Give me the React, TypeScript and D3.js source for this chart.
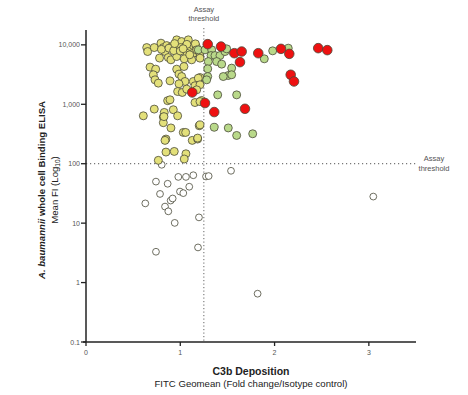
import React from 'react';
import * as d3 from 'd3';

// Scatter of C3b deposition vs whole-cell binding ELISA, log y axis.

const WIDTH = 468;
const HEIGHT = 395;
const X0 = 86;
const X1 = 416;
const Y_TOP = 30;
const Y_BOTTOM = 342;

const X_TICKS = [0, 1, 2, 3];
const Y_TICKS = [0.1, 1, 10, 100, 1000, 10000];
const X_THRESHOLD = 1.25;
const Y_THRESHOLD = 100;

// [C3b fold change, mean FI]
const belowThreshold: [number, number][] = [
  [0.803, 96], [1.538, 76], [0.742, 50], [0.866, 46], [0.979, 60], [1.06, 60],
  [1.138, 64], [1.273, 61], [1.301, 62], [0.785, 31], [0.997, 34], [1.032, 32],
  [1.095, 41], [0.629, 21.5], [0.898, 24], [0.919, 26], [0.838, 19], [0.873, 15.8],
  [0.941, 10.1], [1.198, 12.5], [0.742, 3.3], [1.188, 3.9], [3.047, 28], [1.82, 0.65],
];

const lowC3b: [number, number][] = [
  [0.644, 9010], [0.654, 7720], [0.724, 9010], [0.795, 10680], [0.82, 9010], [0.838, 7720],
  [0.856, 9730], [0.909, 9360], [0.962, 9360], [0.962, 12140], [1.015, 11360], [1.085, 12140],
  [1.05, 9360], [1.103, 8240], [1.138, 9730], [1.068, 7240], [1.138, 7240], [1.191, 7930],
  [0.873, 6120], [0.901, 5600], [0.962, 6360], [1.042, 5820], [1.121, 5600], [1.209, 6360],
  [0.8, 8400], [0.88, 8800], [0.93, 8000], [1.0, 9000], [1.0, 7900], [1.07, 10200],
  [1.17, 9300], [1.1, 6800], [0.78, 6000], [0.94, 10500], [1.03, 8600], [1.16, 10400],
  [0.679, 4220], [0.739, 3900], [0.714, 3140], [0.732, 2580], [0.962, 3900], [1.039, 4320],
  [0.986, 3220], [1.015, 2930], [0.891, 2480], [0.767, 2270], [1.05, 2420], [1.138, 2420],
  [1.209, 2820], [1.174, 8240], [1.209, 7240], [1.209, 5980], [1.191, 2750], [0.986, 2210],
  [1.156, 2050], [1.209, 2130], [0.972, 1640], [1.021, 1580], [1.068, 1800], [1.174, 1750],
  [1.156, 1070], [1.227, 1160], [0.608, 640], [0.724, 830], [0.866, 1150], [0.891, 1190],
  [0.83, 730], [0.82, 610], [0.82, 490], [0.926, 810], [0.972, 640], [0.901, 400],
  [1.032, 336], [1.057, 336], [0.848, 260], [0.838, 247], [1.127, 247], [1.184, 260],
  [0.848, 157], [0.936, 161], [1.06, 147], [1.042, 120], [0.767, 114], [1.201, 435],
  [1.209, 450], [1.184, 270], [1.209, 1110], [0.827, 620],
];

const midC3b: [number, number][] = [
  [1.191, 8240], [1.262, 8240], [1.333, 8240], [1.326, 6610], [1.368, 6610], [1.421, 6610],
  [1.474, 7720], [1.492, 8570], [1.297, 5240], [1.386, 5240], [1.439, 4740], [1.291, 3950],
  [1.545, 4060], [1.509, 3050], [1.456, 2930], [1.545, 3140], [1.891, 5820], [1.98, 7930],
  [2.145, 8800], [1.291, 2930], [1.28, 2580], [1.397, 1440], [1.598, 1440], [1.36, 410],
  [1.509, 400], [1.598, 299], [1.768, 319],
];

const highC3b: [number, number][] = [
  [1.291, 10270], [1.432, 9360], [1.573, 7240], [1.651, 7720], [1.633, 5120], [1.827, 7240],
  [2.068, 8570], [2.156, 7060], [2.463, 8800], [2.559, 8150], [2.171, 3140], [2.206, 2420],
  [1.262, 1050], [1.36, 740], [1.686, 840], [1.127, 1580],
];

const GROUPS = [
  { key: 'below', data: belowThreshold, fill: '#ffffff', r: 3.4 },
  { key: 'low', data: lowC3b, fill: '#e3e07a', r: 4 },
  { key: 'mid', data: midC3b, fill: '#b9d98a', r: 4 },
  { key: 'high', data: highC3b, fill: '#ee1111', r: 4.8 },
];

const FONT = '"Liberation Sans", Arial, sans-serif';

export default function App() {
  const x = d3.scaleLinear().domain([0, 3.5]).range([X0, X1]);
  const y = d3.scaleLog().domain([0.1, 10 ** 4.25]).range([Y_BOTTOM, Y_TOP]);
  const fmt = d3.format(',');

  return (
    <svg
      width={WIDTH}
      height={HEIGHT}
      viewBox={`0 0 ${WIDTH} ${HEIGHT}`}
      style={{ position: 'absolute', left: 0, top: 0, background: '#fff' }}
      fontFamily={FONT}
    >
      {/* threshold lines */}
      <line
        x1={x(X_THRESHOLD)}
        x2={x(X_THRESHOLD)}
        y1={Y_TOP - 2}
        y2={Y_BOTTOM}
        stroke="#666"
        strokeWidth={1}
        strokeDasharray="1.2,2.3"
      />
      <line
        x1={X0}
        x2={X1}
        y1={y(Y_THRESHOLD)}
        y2={y(Y_THRESHOLD)}
        stroke="#555"
        strokeWidth={1}
        strokeDasharray="1.2,2.8"
      />
      <text x={x(X_THRESHOLD)} y={12} fontSize={7.5} fill="#555" textAnchor="middle">
        Assay
      </text>
      <text x={x(X_THRESHOLD)} y={21} fontSize={7.5} fill="#555" textAnchor="middle">
        threshold
      </text>
      <text x={434} y={y(Y_THRESHOLD) - 3} fontSize={7.5} fill="#555" textAnchor="middle">
        Assay
      </text>
      <text x={434} y={y(Y_THRESHOLD) + 7} fontSize={7.5} fill="#555" textAnchor="middle">
        threshold
      </text>

      {/* points */}
      {GROUPS.map((g) => (
        <g key={g.key}>
          {g.data.map((d, i) => (
            <circle
              key={`${g.key}-${i}`}
              cx={x(d[0])}
              cy={y(d[1])}
              r={g.r}
              fill={g.fill}
              stroke="#4a4a3a"
              strokeWidth={0.8}
            />
          ))}
        </g>
      ))}

      {/* axes */}
      <line x1={X0} x2={X0} y1={Y_TOP} y2={Y_BOTTOM} stroke="#222" strokeWidth={1.5} />
      <line x1={X0 - 3} x2={X1} y1={Y_BOTTOM} y2={Y_BOTTOM} stroke="#222" strokeWidth={1.5} />
      {Y_TICKS.map((t) => (
        <g key={`yt-${t}`}>
          <line x1={X0 - 5} x2={X0} y1={y(t)} y2={y(t)} stroke="#222" strokeWidth={1.3} />
          <text x={X0 - 6} y={y(t) + 2.5} fontSize={7} fill="#555" textAnchor="end">
            {t < 1 ? String(t) : fmt(t)}
          </text>
        </g>
      ))}
      {X_TICKS.map((t) => (
        <g key={`xt-${t}`}>
          <line x1={x(t)} x2={x(t)} y1={Y_BOTTOM} y2={Y_BOTTOM + 4} stroke="#222" strokeWidth={1.3} />
          <text x={x(t)} y={Y_BOTTOM + 13} fontSize={7} fill="#555" textAnchor="middle">
            {t}
          </text>
        </g>
      ))}

      {/* axis titles */}
      <text x={251} y={375} fontSize={10.5} fontWeight="bold" fill="#222" textAnchor="middle">
        C3b Deposition
      </text>
      <text x={251} y={387} fontSize={9.6} fill="#222" textAnchor="middle">
        FITC Geomean (Fold change/Isotype control)
      </text>
      <g transform="translate(45, 190) rotate(-90)">
        <text x={0} y={0} fontSize={9.6} fontWeight="bold" fill="#222" textAnchor="middle">
          <tspan fontStyle="italic">A. baumannii</tspan> whole cell Binding ELISA
        </text>
        <text x={0} y={13} fontSize={9.6} fill="#222" textAnchor="middle">
          Mean FI (Log<tspan fontSize={6.5} dy={2}>10</tspan>
          <tspan dy={-2}>)</tspan>
        </text>
      </g>
    </svg>
  );
}
